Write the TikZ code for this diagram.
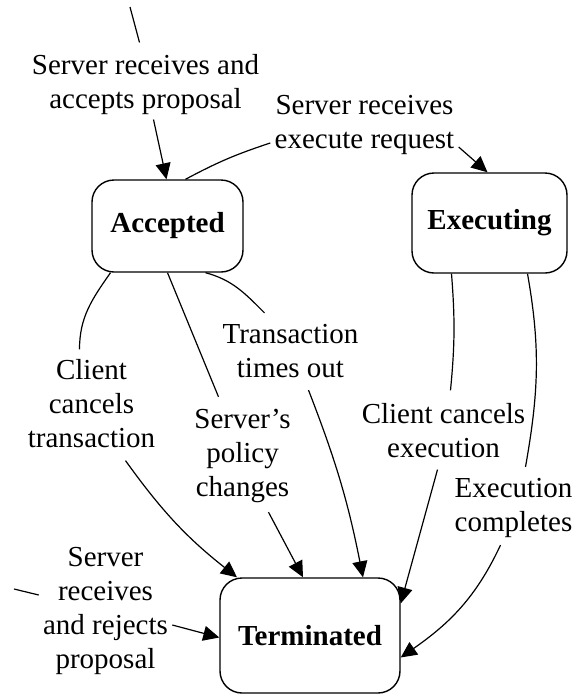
\documentclass[tikz,border=0pt]{standalone}
\usepackage{fontspec}
\setmainfont{Liberation Serif}
\usetikzlibrary{arrows.meta}
\tikzset{
	state/.style={draw, line width=0.7pt, rounded corners=11pt, font=\fontsize{14.5}{17}\selectfont\bfseries},
	lbl/.style={align=center, inner sep=2pt, font=\fontsize{14.5}{17}\selectfont},
	trans/.style={line width=0.6pt},
	tip/.style={trans, -{Triangle[length=8pt,width=7.5pt]}}
}

\begin{document}
\begin{tikzpicture}[x=0.5pt, y=0.5pt]
		%%%%% START %%%%%
		\useasboundingbox (0,0) rectangle (581,-697);
		
		\node[state, minimum width=75.5pt, minimum height=46pt] (acc) at (167.5,-226) {Accepted};
		\node[state, minimum width=77.5pt, minimum height=50pt] (exe) at (489.5,-223) {Executing};
		\node[state, minimum width=90pt, minimum height=57.5pt] (term) at (310,-635.5) {Terminated};
		
		\node[lbl] (lblAccept) at (145.5,-85) {Server receives and\\accepts proposal};
		\node[lbl] (lblExec) at (364.5,-125) {Server receives\\execute request};
		\node[lbl] (lblCancelT) at (91.5,-404) {Client\\cancels\\transaction};
		\node[lbl] (lblPolicy) at (242.5,-456) {Server's\\policy\\changes};
		\node[lbl] (lblTimeout) at (290.5,-351) {Transaction\\times out};
		\node[lbl] (lblCancelE) at (443.5,-431) {Client cancels\\execution};
		\node[lbl] (lblDone) at (513.5,-508) {Execution\\completes};
		\node[lbl] (lblReject) at (105.5,-611) {Server\\receives\\and rejects\\proposal};
		
		\coordinate (init) at (130,-7);
		\coordinate (rejIn) at (14,-589);
		
		% accepting
		\draw[trans] (init) -- ([xshift=-3pt,yshift=4pt]lblAccept.north);
		\draw[tip] ([xshift=4pt]lblAccept.south) -- ([xshift=-0.5pt]acc.north);
		
		% executing
		\draw[trans] ([xshift=9pt]acc.north) to[bend left=5] ([yshift=-9pt]lblExec.west);
		\draw[tip] ([yshift=-11pt]lblExec.east) -- ([xshift=-1pt]exe.north);
		
		% accepted -> terminated
		\draw[trans] ([xshift=-28.5pt]acc.south) to[out=-125, in=90] ([xshift=-6pt,yshift=3pt]lblCancelT.north);
		\draw[tip] ([xshift=17pt,yshift=-4pt]lblCancelT.south) to[bend right=8] ([xshift=-36.5pt]term.north);
		\draw[trans] (acc.south) -- ([xshift=-12pt,yshift=4pt]lblPolicy.north);
		\draw[tip] ([xshift=13pt,yshift=-2.5pt]lblPolicy.south) -- ([xshift=-3.5pt]term.north);
		\draw[trans] ([xshift=19pt]acc.south) to[out=-15, in=135] ([xshift=-13pt,yshift=3.5pt]lblTimeout.north);
		\draw[tip] ([xshift=9pt,yshift=-4pt]lblTimeout.south) to[bend left=5] ([xshift=26.5pt]term.north);
		
		% executing -> terminated
		\draw[trans] ([xshift=-19pt]exe.south) to[bend left=5] ([xshift=3.5pt,yshift=4.5pt]lblCancelE.north);
		\draw[tip] ([xshift=-3pt,yshift=-3.5pt]lblCancelE.south) -- ([yshift=16pt]term.east);
		\draw[trans] ([xshift=19pt]exe.south) to[out=-80, in=80] ([xshift=6pt,yshift=3.5pt]lblDone.north);
		\draw[tip] ([xshift=-6.5pt,yshift=-1.5pt]lblDone.south) to[out=-115, in=35] ([yshift=-11pt]term.east);
		
		% rejecting
		\draw[trans] (rejIn) -- ([yshift=8pt]lblReject.west);
		\draw[tip] ([yshift=-7pt]lblReject.east) -- ([yshift=-1pt]term.west);
		
		%%%%% END %%%%%
\end{tikzpicture}
\end{document}
